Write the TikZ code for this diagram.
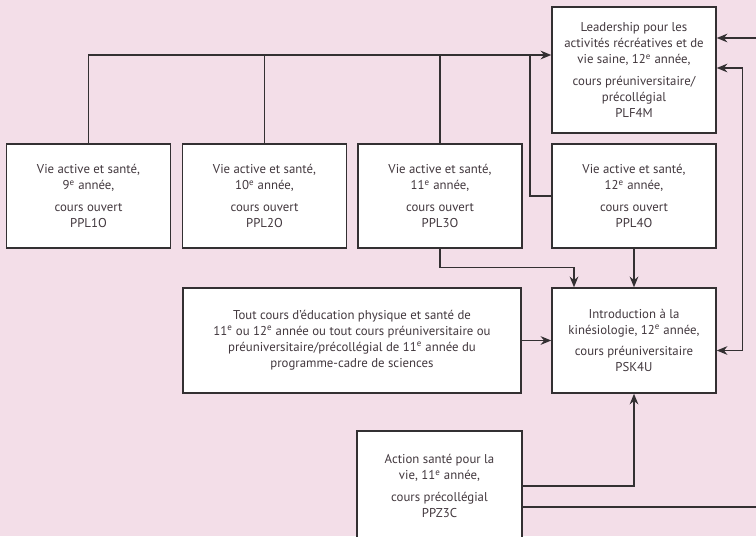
\documentclass[tikz,border=0pt]{standalone}
\usepackage{fontspec}
\setmainfont{PT Sans}
\usetikzlibrary{arrows.meta,calc,positioning}

\definecolor{bgpink}{RGB}{243,222,232}
\definecolor{boxline}{RGB}{51,48,50}
\definecolor{boxtext}{RGB}{66,56,62}

\begin{document}
\begin{tikzpicture}[x=0.75pt, y=-0.75pt,
    box/.style={rectangle, draw=boxline, line width=1.1pt, fill=white, align=center, text=boxtext,
                font=\fontsize{9.6}{12}\selectfont, inner sep=0pt, minimum width=123pt, minimum height=78pt},
    link/.style={draw=boxline, line width=1.1pt},
    arr/.style={link, -{Stealth[length=8pt,width=6.5pt]}},
    arrboth/.style={link, {Stealth[length=8pt,width=6.5pt]}-{Stealth[length=8pt,width=6.5pt]}}]

    \useasboundingbox (0,0) rectangle (756,536);
    \clip (0,0) rectangle (756,536);
    \fill[bgpink] (0,0) rectangle (756,536);

    % courses
    \node[box, minimum height=94.5pt] (plf) at (634,70) {Leadership pour les\\ activités récréatives et de\\ vie saine, 12\textsuperscript{e} année,\\[4pt] cours préuniversitaire/\\ précollégial\\ PLF4M};
    \node[box] (ppl1) at (88.5,196) {Vie active et santé,\\ 9\textsuperscript{e} année,\\[4pt] cours ouvert\\ PPL1O};
    \node[box] (ppl2) at (264.5,196) {Vie active et santé,\\ 10\textsuperscript{e} année,\\[4pt] cours ouvert\\ PPL2O};
    \node[box] (ppl3) at (440,196) {Vie active et santé,\\ 11\textsuperscript{e} année,\\[4pt] cours ouvert\\ PPL3O};
    \node[box] (ppl4) at (634,196) {Vie active et santé,\\ 12\textsuperscript{e} année,\\[4pt] cours ouvert\\ PPL4O};
    \node[box, minimum width=253.5pt, minimum height=78.75pt] (tout) at (352,340.5) {Tout cours d’éducation physique et santé de\\ 11\textsuperscript{e} ou 12\textsuperscript{e} année ou tout cours préuniversitaire ou\\ préuniversitaire/précollégial de 11\textsuperscript{e} année du\\ programme-cadre de sciences};
    \node[box, minimum height=78.75pt] (psk) at (634,340.5) {Introduction à la\\ kinésiologie, 12\textsuperscript{e} année,\\[4pt] cours préuniversitaire\\ PSK4U};
    \node[box, minimum width=123.75pt, minimum height=82.5pt] (ppz) at (439.5,486) {Action santé pour la\\ vie, 11\textsuperscript{e} année,\\[4pt] cours précollégial\\ PPZ3C};

    % connectors
    \coordinate (bus) at (530,55);
    \coordinate (in) at (760,38);
    \coordinate (out) at (760,507);

    \draw[arr] (ppl1.north) |- (plf.west |- bus);
    \draw[link] (ppl2.north) -- (ppl2.north |- bus);
    \draw[link] (ppl3.north) -- (ppl3.north |- bus);
    \draw[link] (ppl4.west) -| (bus);

    \draw[arr] (ppl3.south) -- ++(0,19) -| ($(psk.north)+(-60,0)$);
    \draw[arr] (ppl4.south) -- (psk.north);
    \draw[arr] (tout) -- (psk);
    \draw[arr] (ppz.east) -| (psk.south);
    \draw[link] (ppz.east |- out) -- (out);

    \draw[arr] (in) -- (in -| plf.east);
    \draw[arrboth] ($(plf.east)+(0,-2)$) -- ++(26,0) |- ($(psk.east)+(0,10)$);
\end{tikzpicture}
\end{document}
